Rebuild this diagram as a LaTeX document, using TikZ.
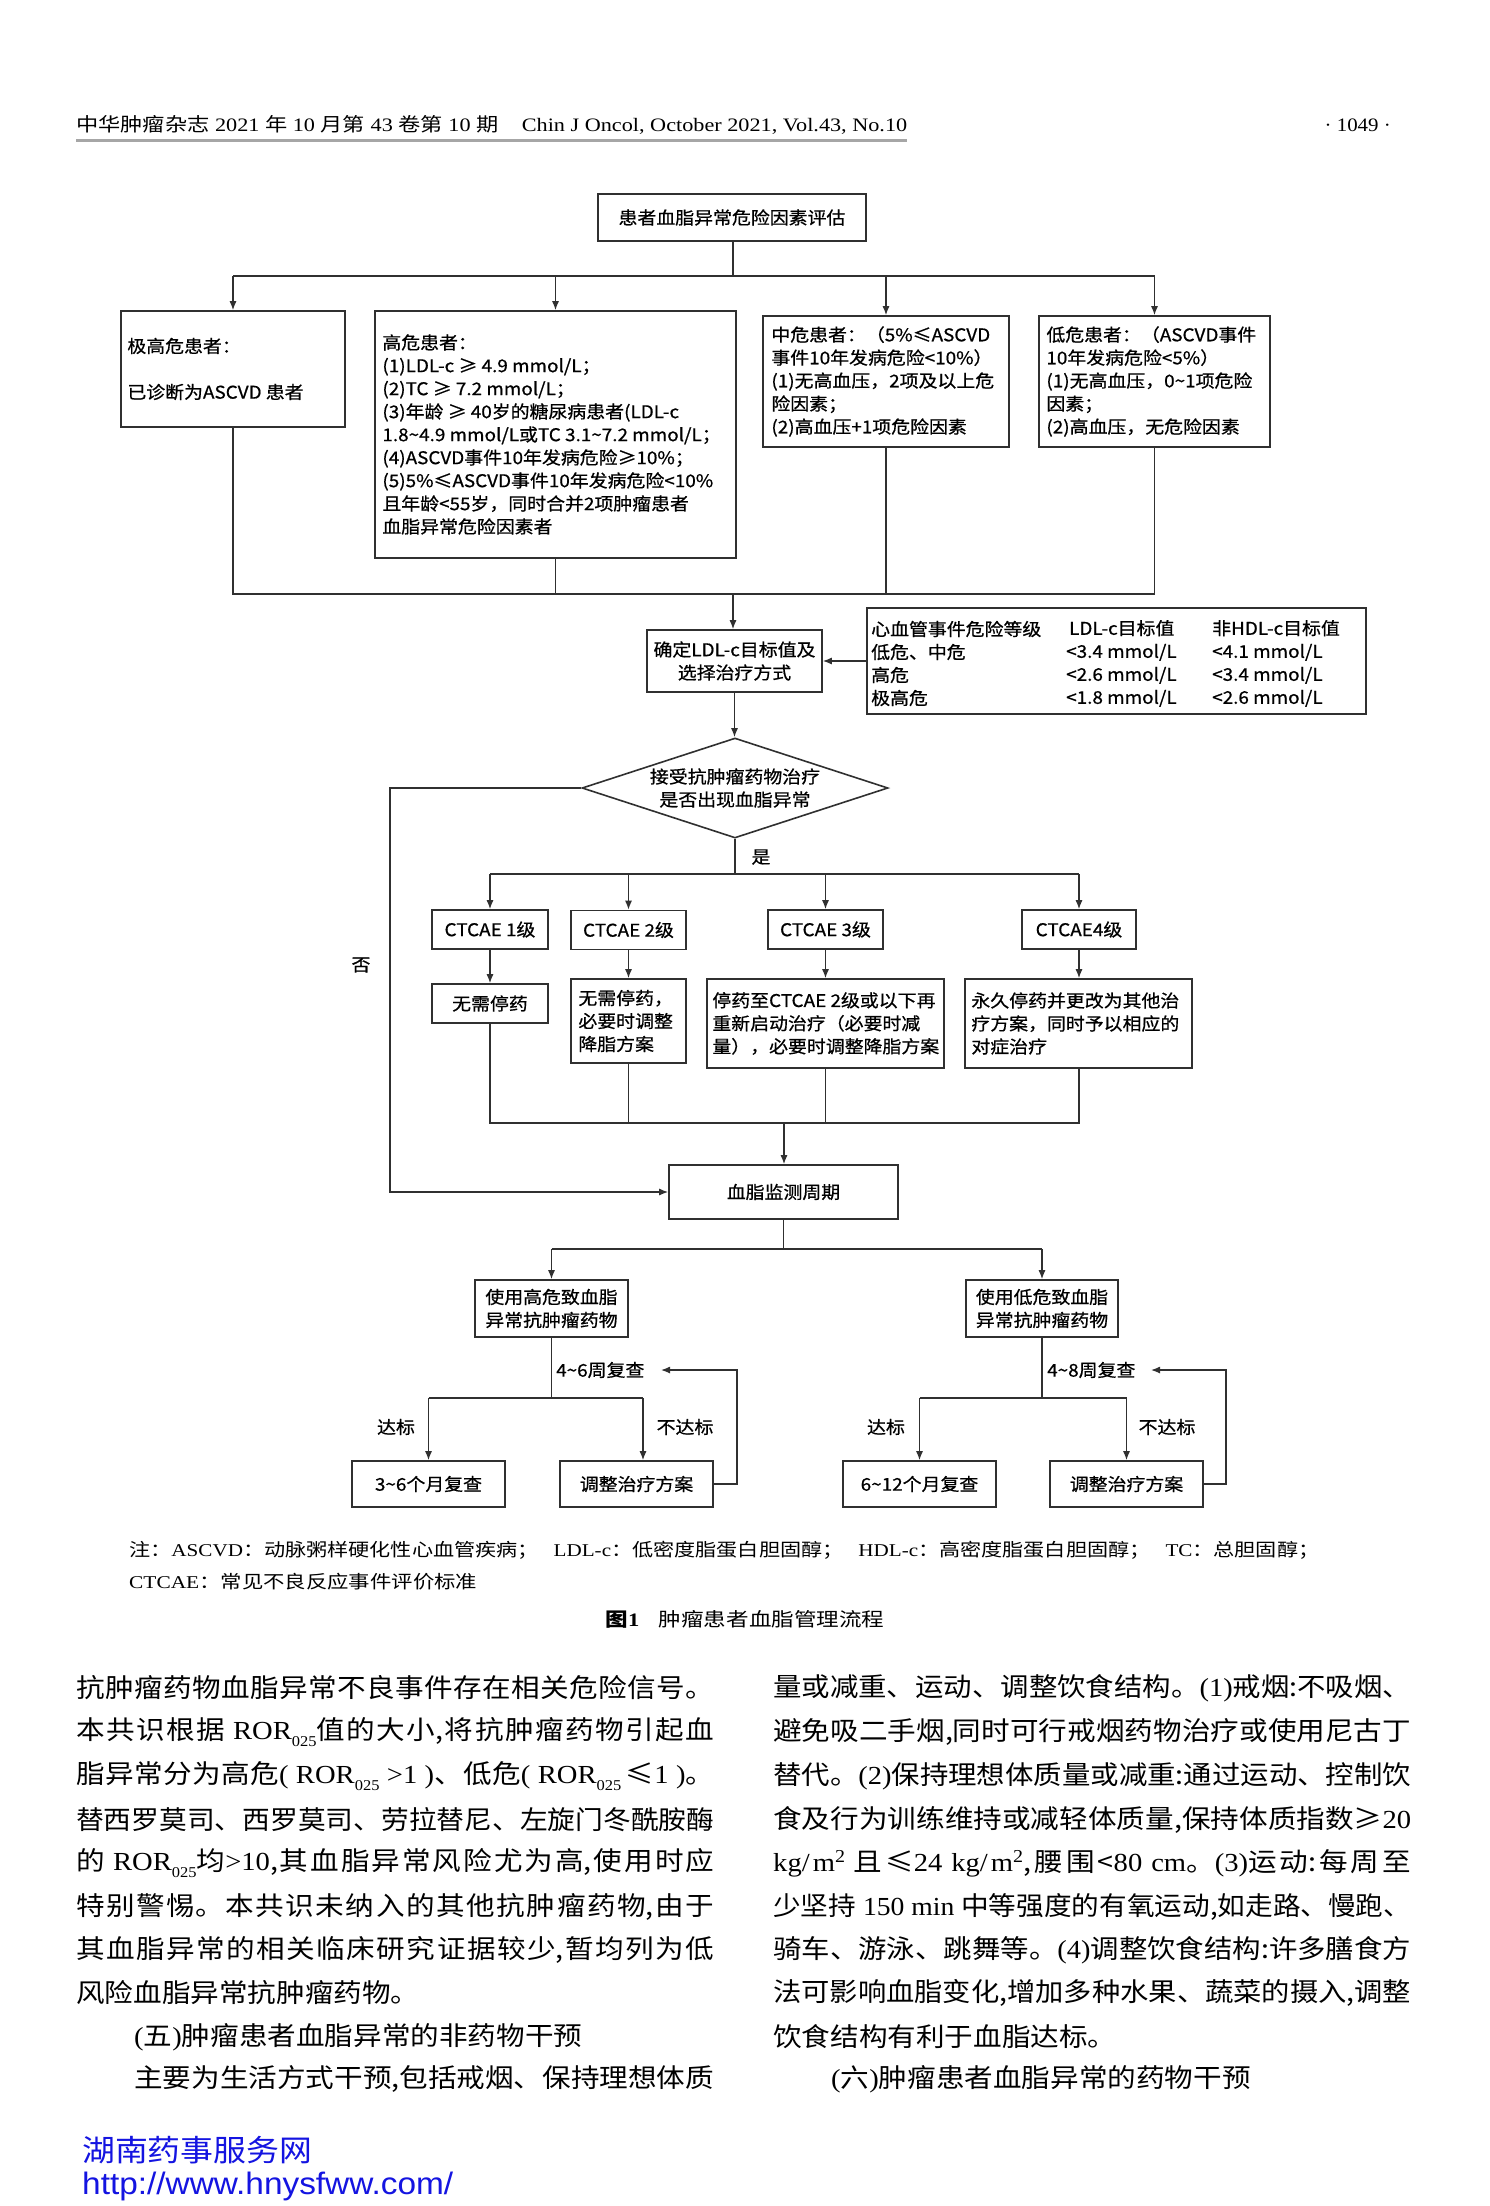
\documentclass[tikz,border=0pt]{standalone}
\usepackage{fontspec}
\usepackage{graphicx}
\setmainfont{Liberation Serif}[FakeStretch=1.1]
\newfontfamily\cjk{Noto Sans CJK SC}[FakeStretch=1.1]
\newfontfamily\fcf{Noto Sans CJK SC}[FakeStretch=1.08,FakeBold=0.7]
\newfontfamily\lsans{Liberation Sans}
\usetikzlibrary{arrows.meta,shapes.geometric}
\definecolor{lnc}{HTML}{303030}
\definecolor{wm}{RGB}{20,20,225}
\newcommand\fc{\fontsize{17.5}{23}\selectfont\fcf}
\newcommand\lt[1]{{\rmfamily #1}}
\newcommand\tild{\textasciitilde}
\newcommand\rsub[1]{\raisebox{-0.3em}{\fontsize{15}{15}\selectfont\rmfamily #1}}
\newsavebox\jlbox
\newcommand\jl[2][638pt]{\sbox\jlbox{#2}\ifdim\wd\jlbox>#1\relax\resizebox{#1}{\height}{\usebox\jlbox}\else\parbox{#1}{\noindent\parfillskip=0pt\relax #2}\fi}
\newcommand\bodyf{\fontsize{26}{26}\selectfont\cjk\XeTeXlinebreaklocale "zh"\XeTeXlinebreakskip=0pt plus 6pt\relax}
\tikzset{
  ln/.style={draw=lnc, line width=1.3pt},
  arr/.style={ln, -{Latex[length=9pt,width=7pt]}},
  bx/.style={draw=lnc, line width=1.6pt, fill=white, inner sep=0pt, font=\fc, align=center},
  lbl/.style={font=\fc, inner sep=0pt},
  bt/.style={font=\bodyf, inner sep=0pt, anchor=west},
}
\begin{document}
\begin{tikzpicture}[x=1pt,y=-1pt]
\useasboundingbox (0,0) rectangle (1489,2206);
\fill[white] (0,0) rectangle (1489,2206);
% ---------- header
\node[anchor=west,inner sep=0pt] (hdr) at (76,125) {\resizebox{831pt}{\height}{\fontsize{19}{19}\selectfont\cjk 中华肿瘤杂志\lt{ 2021 }年\lt{ 10 }月第\lt{ 43 }卷第\lt{ 10 }期\hspace{22pt}\lt{Chin J Oncol, October 2021, Vol.43, No.10}}};
\coordinate (hl) at (0,140);
\draw[line width=3pt, gray!70] (hdr.west |- hl) -- (hdr.east |- hl);
\node[anchor=east,inner sep=0pt,font=\fontsize{19}{19}\selectfont] (pg) at (1391,125) {· 1049 ·};
% ---------- flowchart: top part
\node[bx, minimum width=268pt, minimum height=47pt] (top) at (732,217.5) {患者血脂异常危险因素评估};
\node[bx, minimum width=224pt, minimum height=116pt] (b1) at (233,369) {};
\node[lbl, anchor=west, align=left] (b1t) at ([xshift=7pt]b1.west) {极高危患者：\\[23pt]已诊断为ASCVD 患者};
\node[bx, minimum width=361pt, minimum height=247pt] (b2) at (555.5,434.5) {};
\node[lbl, anchor=west, align=left] (b2t) at ([xshift=8pt]b2.west) {高危患者：\\(1)LDL-c ≥ 4.9 mmol/L；\\(2)TC ≥ 7.2 mmol/L；\\(3)年龄 ≥ 40岁的糖尿病患者(LDL-c\\1.8\tild 4.9 mmol/L或TC 3.1\tild 7.2 mmol/L；\\(4)ASCVD事件10年发病危险≥10\%；\\(5)5\%≤ASCVD事件10年发病危险<10\%\\且年龄<55岁，同时合并2项肿瘤患者\\血脂异常危险因素者};
\node[bx, minimum width=246pt, minimum height=131pt] (b3) at (886,381.5) {};
\node[lbl, anchor=west, align=left] (b3t) at ([xshift=9pt]b3.west) {中危患者：（5\%≤ASCVD\\事件10年发病危险<10\%）\\(1)无高血压，2项及以上危\\险因素；\\(2)高血压+1项危险因素};
\node[bx, minimum width=231pt, minimum height=131pt] (b4) at (1154.5,381.5) {};
\node[lbl, anchor=west, align=left] (b4t) at ([xshift=8pt]b4.west) {低危患者：（ASCVD事件\\10年发病危险<5\%）\\(1)无高血压，0\tild 1项危险\\因素；\\(2)高血压，无危险因素};
\coordinate (bus1) at (733,276);
\draw[ln] (top.south -| bus1) -- (bus1);
\draw[ln] (b1.north |- bus1) -- (b4.north |- bus1);
\draw[arr] (b1.north |- bus1) -- (b1.north);
\draw[arr] (b2.north |- bus1) -- (b2.north);
\draw[arr] (b3.north |- bus1) -- (b3.north);
\draw[arr] (b4.north |- bus1) -- (b4.north);
\coordinate (bus2) at (733,594);
\draw[ln] (b1.south) -- (b1.south |- bus2) -- (b4.south |- bus2) -- (b4.south);
\draw[ln] (b2.south) -- (b2.south |- bus2);
\draw[ln] (b3.south) -- (b3.south |- bus2);
% LDL box + table
\node[bx, minimum width=175pt, minimum height=62pt] (ldl) at (734.5,661) {确定LDL-c目标值及\\选择治疗方式};
\draw[arr] (bus2) -- (bus2 |- ldl.north);
\node[bx, minimum width=499pt, minimum height=106pt] (tbl) at (1116.5,661) {};
\node[lbl, anchor=west, align=left] (tc1) at (871,663.5) {心血管事件危险等级\\低危、中危\\高危\\极高危};
\node[lbl, anchor=west, align=left] (tc2) at (1066,663.5) {\,LDL-c目标值\\<3.4 mmol/L\\<2.6 mmol/L\\<1.8 mmol/L};
\node[lbl, anchor=west, align=left] (tc3) at (1212,663.5) {非HDL-c目标值\\<4.1 mmol/L\\<3.4 mmol/L\\<2.6 mmol/L};
\draw[arr] (tbl.west) -- (ldl.east);
% diamond
\node[draw=lnc, line width=1.6pt, shape=diamond, shape aspect=3, inner sep=0pt, minimum width=306pt, minimum height=100pt, font=\fc, align=center] (dia) at (735,788) {接受抗肿瘤药物治疗\\是否出现血脂异常};
\draw[arr] (ldl.south) -- (ldl.south |- dia.north);
\node[lbl] (yes) at (761,857) {是};
\node[lbl] (no) at (361,965) {否};
% CTCAE rows
\node[bx, minimum width=116pt, minimum height=39pt] (c1) at (490,929.5) {CTCAE 1级};
\node[bx, minimum width=115pt, minimum height=39pt] (c2) at (628.5,930) {CTCAE 2级};
\node[bx, minimum width=115pt, minimum height=39pt] (c3) at (825.5,929.5) {CTCAE 3级};
\node[bx, minimum width=114pt, minimum height=39pt] (c4) at (1079,929.5) {CTCAE4级};
\coordinate (bus3) at (735,874);
\draw[ln] (dia.south) -- (bus3);
\draw[ln] (c1.north |- bus3) -- (c4.north |- bus3);
\draw[arr] (c1.north |- bus3) -- (c1.north);
\draw[arr] (c2.north |- bus3) -- (c2.north);
\draw[arr] (c3.north |- bus3) -- (c3.north);
\draw[arr] (c4.north |- bus3) -- (c4.north);
\node[bx, minimum width=116pt, minimum height=39pt] (r1) at (490,1003.5) {无需停药};
\node[bx, minimum width=115pt, minimum height=84pt] (r2) at (628.5,1021) {};
\node[lbl, anchor=west, align=left] (r2t) at ([xshift=8pt]r2.west) {无需停药，\\必要时调整\\降脂方案};
\node[bx, minimum width=237pt, minimum height=89pt] (r3) at (825.5,1023.5) {};
\node[lbl, anchor=west, align=left] (r3t) at ([xshift=6pt]r3.west) {停药至CTCAE 2级或以下再\\重新启动治疗（必要时减\\量），必要时调整降脂方案};
\node[bx, minimum width=227pt, minimum height=89pt] (r4) at (1078.5,1023.5) {};
\node[lbl, anchor=west, align=left] (r4t) at ([xshift=7pt]r4.west) {永久停药并更改为其他治\\疗方案，同时予以相应的\\对症治疗};
\draw[arr] (c1.south) -- (c1.south |- r1.north);
\draw[arr] (c2.south) -- (c2.south |- r2.north);
\draw[arr] (c3.south) -- (c3.south |- r3.north);
\draw[arr] (c4.south) -- (c4.south |- r4.north);
\coordinate (bus4) at (784,1123);
\draw[ln] (r1.south) -- (r1.south |- bus4) -- (c4.south |- bus4) -- (c4.south |- r4.south);
\draw[ln] (r2.south) -- (r2.south |- bus4);
\draw[ln] (r3.south) -- (r3.south |- bus4);
% monitoring
\node[bx, minimum width=229pt, minimum height=54pt] (mon) at (783.5,1192) {血脂监测周期};
\draw[arr] (bus4) -- (bus4 |- mon.north);
\coordinate (nL) at (390,788);
\draw[arr] (dia.west) -- (nL) -- (nL |- mon.west) -- (mon.west);
% drug categories
\node[bx, minimum width=153pt, minimum height=57pt] (hi) at (551.5,1308.5) {使用高危致血脂\\异常抗肿瘤药物};
\node[bx, minimum width=152pt, minimum height=57pt] (lo) at (1042,1308.5) {使用低危致血脂\\异常抗肿瘤药物};
\coordinate (bus5) at (783.5,1249);
\draw[ln] (mon.south) -- (bus5);
\draw[ln] (hi.north |- bus5) -- (lo.north |- bus5);
\draw[arr] (hi.north |- bus5) -- (hi.north);
\draw[arr] (lo.north |- bus5) -- (lo.north);
% follow-up boxes
\node[bx, minimum width=153pt, minimum height=46pt] (q1) at (428.5,1484) {3\tild 6个月复查};
\node[bx, minimum width=153pt, minimum height=46pt] (a1) at (636.5,1484) {调整治疗方案};
\node[bx, minimum width=153pt, minimum height=46pt] (q2) at (919.5,1484) {6\tild 12个月复查};
\node[bx, minimum width=153pt, minimum height=46pt] (a2) at (1126.5,1484) {调整治疗方案};
\coordinate (bus6) at (551.5,1398);
\coordinate (a1x) at (643,1398);
\draw[ln] (hi.south) -- (bus6);
\draw[ln] (q1.north |- bus6) -- (a1x);
\draw[arr] (q1.north |- bus6) -- (q1.north);
\draw[arr] (a1x) -- (a1x |- a1.north);
\coordinate (bus7) at (1042,1398);
\draw[ln] (lo.south) -- (bus7);
\draw[ln] (q2.north |- bus7) -- (a2.north |- bus7);
\draw[arr] (q2.north |- bus7) -- (q2.north);
\draw[arr] (a2.north |- bus7) -- (a2.north);
\node[lbl, anchor=west] (w1) at (556,1370) {4\tild 6周复查};
\node[lbl, anchor=west] (w2) at (1047,1370) {4\tild 8周复查};
\node[lbl] (ok1) at (396,1427) {达标};
\node[lbl] (nk1) at (685,1427) {不达标};
\node[lbl] (ok2) at (886,1427) {达标};
\node[lbl] (nk2) at (1167,1427) {不达标};
\coordinate (f1) at (737,1370);
\coordinate (f1e) at (661,1370);
\draw[arr] (a1.east) -- (a1.east -| f1) -- (f1) -- (f1e);
\coordinate (f2) at (1226,1370);
\coordinate (f2e) at (1151,1370);
\draw[arr] (a2.east) -- (a2.east -| f2) -- (f2) -- (f2e);
% ---------- note and caption
\node[anchor=west, inner sep=0pt] (n1) at (129,1550) {\resizebox{1190pt}{\height}{\fontsize{18}{18}\selectfont\cjk 注：\lt{ASCVD}：动脉粥样硬化性心血管疾病；\hspace{14pt}\lt{LDL-c}：低密度脂蛋白胆固醇；\hspace{14pt}\lt{HDL-c}：高密度脂蛋白胆固醇；\hspace{14pt}\lt{TC}：总胆固醇；}};
\node[anchor=west, inner sep=0pt] (n2) at (129,1582) {\resizebox{348pt}{\height}{\fontsize{18}{18}\selectfont\cjk \lt{CTCAE}：常见不良反应事件评价标准}};
\node[inner sep=0pt] (cap) at (745,1619) {\resizebox{279pt}{\height}{\fontsize{19}{19}\selectfont\cjk\bfseries 图\lt{\bfseries 1}\hspace{18pt}\mdseries 肿瘤患者血脂管理流程}};
% ---------- body text, left column
\node[bt] (L1) at (76,1688) {\jl{抗肿瘤药物血脂异常不良事件存在相关危险信号。}};
\node[bt] (L2) at (76,1732) {\jl{本共识根据\lt{ ROR}\rsub{025}值的大小,将抗肿瘤药物引起血}};
\node[bt] (L3) at (76,1776) {\jl{脂异常分为高危\lt{( ROR}\rsub{025}\lt{ >1 )}、低危\lt{( ROR}\rsub{025}\,≤\lt{1 )}。}};
\node[bt] (L4) at (76,1820) {\jl{替西罗莫司、西罗莫司、劳拉替尼、左旋门冬酰胺酶}};
\node[bt] (L5) at (76,1863) {\jl{的\lt{ ROR}\rsub{025}均\lt{>10},其血脂异常风险尤为高,使用时应}};
\node[bt] (L6) at (76,1907) {\jl{特别警惕。本共识未纳入的其他抗肿瘤药物,由于}};
\node[bt] (L7) at (76,1950) {\jl{其血脂异常的相关临床研究证据较少,暂均列为低}};
\node[bt] (L8) at (76,1993) {风险血脂异常抗肿瘤药物。};
\node[bt] (L9) at (134,2037) {\lt{(}五\lt{)}肿瘤患者血脂异常的非药物干预};
\node[bt] (L10) at (134,2079) {\jl[580pt]{主要为生活方式干预,包括戒烟、保持理想体质}};
% ---------- body text, right column
\node[bt] (R1) at (773,1688) {\jl{量或减重、运动、调整饮食结构。\lt{(1)}戒烟:不吸烟、}};
\node[bt] (R2) at (773,1732) {\jl{避免吸二手烟,同时可行戒烟药物治疗或使用尼古丁}};
\node[bt] (R3) at (773,1776) {\jl{替代。\lt{(2)}保持理想体质量或减重:通过运动、控制饮}};
\node[bt] (R4) at (773,1820) {\jl{食及行为训练维持或减轻体质量,保持体质指数≥\lt{20}}};
\node[bt] (R5) at (773,1863) {\jl{\lt{kg/m\textsuperscript{2}} 且≤\lt{24 kg/m\textsuperscript{2}},腰围<\lt{80 cm}。\lt{(3)}运动:每周至}};
\node[bt] (R6) at (773,1907) {\jl{少坚持\lt{ 150 min }中等强度的有氧运动,如走路、慢跑、}};
\node[bt] (R7) at (773,1950) {\jl{骑车、游泳、跳舞等。\lt{(4)}调整饮食结构:许多膳食方}};
\node[bt] (R8) at (773,1993) {\jl{法可影响血脂变化,增加多种水果、蔬菜的摄入,调整}};
\node[bt] (R9) at (773,2037) {饮食结构有利于血脂达标。};
\node[bt] (R10) at (831,2079) {\lt{(}六\lt{)}肿瘤患者血脂异常的药物干预};
% ---------- watermark
\node[anchor=west, inner sep=0pt, text=wm] (wm1) at (82,2150) {\resizebox{230pt}{\height}{\fontsize{30}{30}\selectfont\cjk 湖南药事服务网}};
\node[anchor=west, inner sep=0pt, text=wm] (wm2) at (82,2186) {\resizebox{371pt}{\height}{\fontsize{31}{31}\selectfont\lsans http://www.hnysfww.com/}};
\end{tikzpicture}
\end{document}
